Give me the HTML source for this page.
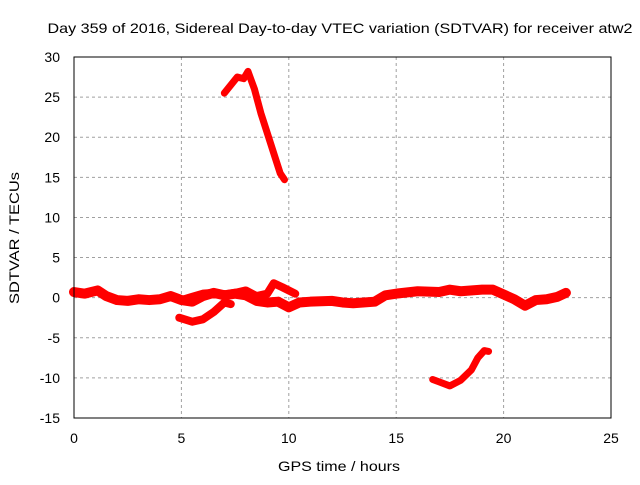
<!DOCTYPE html>
<html><head><meta charset="utf-8"><style>
body{margin:0;background:#fff;width:640px;height:480px;overflow:hidden}
text{font-family:"Liberation Sans",sans-serif;font-size:14px;fill:#000}
</style></head><body>
<svg id="chart" width="640" height="480">
<text x="340" y="33" text-anchor="middle" textLength="585" lengthAdjust="spacingAndGlyphs">Day 359 of 2016, Sidereal Day-to-day VTEC variation (SDTVAR) for receiver atw2</text>
<text x="339" y="471" text-anchor="middle" textLength="122" lengthAdjust="spacingAndGlyphs">GPS time / hours</text>
<text transform="translate(19,238) rotate(-90)" text-anchor="middle" textLength="132" lengthAdjust="spacingAndGlyphs">SDTVAR / TECUs</text>
<g id="grid"></g><g id="series"></g>
<rect x="74" y="57" width="537" height="361" fill="none" stroke="#000"/>
<g id="ticks"></g>
</svg>
<script>
const xTicks=[0,5,10,15,20,25];
const yTicks=[-15,-10,-5,0,5,10,15,20,25,30];
const mainBandX=[0,0.5,1.1,1.5,2,2.5,3,3.5,4,4.5,5,5.5,6,6.5,7,7.5,8,8.5,9,9.5,10,10.5,11,12,12.5,13,14,14.5,15,16,17,17.5,18,19,19.5,20,20.5,21,21.5,22,22.5,22.9];
const mainBandY=[0.7,0.5,0.9,0.2,-0.3,-0.4,-0.2,-0.3,-0.2,0.2,-0.3,-0.5,0.2,0.6,0.3,0.5,0.3,-0.4,-0.6,-0.5,-1.2,-0.6,-0.5,-0.4,-0.6,-0.7,-0.5,0.3,0.5,0.8,0.7,1.0,0.8,1.0,1.0,0.4,-0.2,-1.0,-0.3,-0.2,0.1,0.6];
const upperLoopX=[5,5.5,6,6.5,7,7.5,8,8.5,9,9.3,9.7,10.3];
const upperLoopY=[-0.3,0.1,0.5,0.6,0.4,0.6,0.9,0.2,0.5,1.8,1.3,0.5];
const lowerLoopX=[4.9,5.5,6,6.5,7,7.3];
const lowerLoopY=[-2.5,-3.0,-2.7,-1.8,-0.6,-0.8];
const peakX=[7,7.3,7.6,7.9,8.1,8.4,8.7,9,9.3,9.6,9.8];
const peakY=[25.5,26.5,27.5,27.3,28.2,26,23,20.5,18,15.5,14.7];
const dipX=[16.7,17,17.5,18,18.5,18.8,19.1,19.3];
const dipY=[-10.2,-10.5,-11,-10.3,-9,-7.5,-6.6,-6.7];
const NS='http://www.w3.org/2000/svg';
const sx=v=>74+v*537/25, sy=v=>418-(v+15)*361/45;
const grid=document.getElementById('grid'),tk=document.getElementById('ticks'),ser=document.getElementById('series');
function mk(tag,a,p){const e=document.createElementNS(NS,tag);for(const k in a)e.setAttribute(k,a[k]);p.appendChild(e);return e;}
xTicks.forEach(v=>{const x=sx(v);
 if(v>0&&v<25){const l=mk('line',{x1:x,x2:x,y1:57,y2:418,stroke:'#a0a0a0','stroke-dasharray':'3,3'},grid);
 
 }
 const t=mk('text',{x:x,y:443,'text-anchor':'middle'},tk);t.textContent=v;
 
 });
yTicks.forEach(v=>{const y=sy(v);
 if(v>-15&&v<30){const l=mk('line',{x1:74,x2:611,y1:y,y2:y,stroke:'#a0a0a0','stroke-dasharray':'3,3'},grid);
 
 }
 const t=mk('text',{x:60,y:y+5,'text-anchor':'end'},tk);t.textContent=v;
 
 });
function draw(xs,ys,name,w){
 const p=mk('polyline',{points:xs.map((x,i)=>sx(x)+','+sy(ys[i])).join(' '),fill:'none',stroke:'#ff0000','stroke-width':w,'stroke-linejoin':'round','stroke-linecap':'round'},ser);
 
 }
draw(mainBandX,mainBandY,'series-main-band',10);
draw(upperLoopX,upperLoopY,'series-upper-loop',8);
draw(lowerLoopX,lowerLoopY,'series-lower-loop',8);
draw(peakX,peakY,'series-peak-arc',7);
draw(dipX,dipY,'series-dip-arc',7);
</script>
</body></html>
